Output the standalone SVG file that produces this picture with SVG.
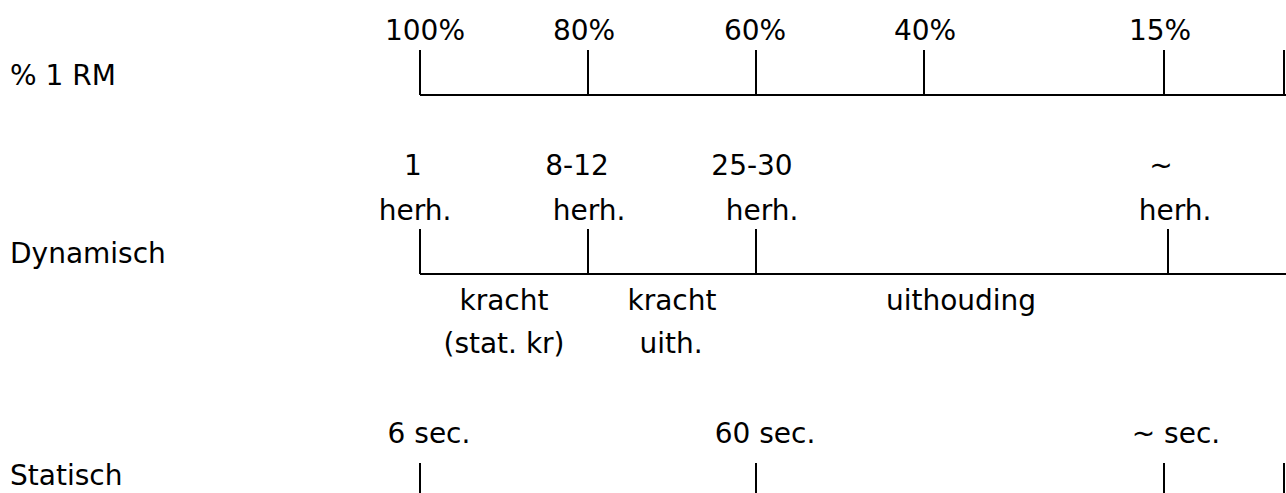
<svg xmlns="http://www.w3.org/2000/svg" width="1286" height="493" viewBox="0 0 1286 493">
<style>
text{font-family:"Comic Sans MS","DejaVu Sans",sans-serif;font-size:28px;fill:#000}
.m{text-anchor:middle}
line{stroke:#000;stroke-width:2;fill:none}
</style>
<rect width="1286" height="493" fill="#fff"/>
<g id="row-labels">
<text x="10" y="85">% 1 RM</text>
<text x="10" y="263">Dynamisch</text>
<text x="10" y="485">Statisch</text>
</g>
<g id="rm-scale">
<text class="m" x="425" y="40">100%</text>
<text class="m" x="584" y="40">80%</text>
<text class="m" x="755" y="40">60%</text>
<text class="m" x="925" y="40">40%</text>
<text class="m" x="1160" y="40">15%</text>
</g>
<g id="dyn-scale">
<text class="m" x="413" y="175">1</text>
<text class="m" x="577" y="175">8-12</text>
<text class="m" x="752" y="175">25-30</text>
<text class="m" x="1161" y="175">~</text>
<text class="m" x="415" y="220">herh.</text>
<text class="m" x="589" y="220">herh.</text>
<text class="m" x="762" y="220">herh.</text>
<text class="m" x="1175" y="220">herh.</text>
<text class="m" x="504" y="310">kracht</text>
<text class="m" x="504" y="353">(stat. kr)</text>
<text class="m" x="672" y="310">kracht</text>
<text class="m" x="671" y="353">uith.</text>
<text class="m" x="961" y="310">uithouding</text>
</g>
<g id="stat-scale">
<text class="m" x="429" y="443">6 sec.</text>
<text class="m" x="765" y="443">60 sec.</text>
<text class="m" x="1176" y="443">~ sec.</text>
</g>
<g id="connectors">
<line x1="420" y1="95" x2="1286" y2="95"/>
<line x1="420" y1="50" x2="420" y2="95"/>
<line x1="588" y1="50" x2="588" y2="95"/>
<line x1="756" y1="50" x2="756" y2="95"/>
<line x1="924" y1="50" x2="924" y2="95"/>
<line x1="1164" y1="50" x2="1164" y2="95"/>
<line x1="1284" y1="50" x2="1284" y2="95"/>
<line x1="420" y1="274" x2="1286" y2="274"/>
<line x1="420" y1="229" x2="420" y2="274"/>
<line x1="588" y1="229" x2="588" y2="274"/>
<line x1="756" y1="229" x2="756" y2="274"/>
<line x1="1168" y1="229" x2="1168" y2="274"/>
<line x1="420" y1="463" x2="420" y2="493"/>
<line x1="756" y1="463" x2="756" y2="493"/>
<line x1="1164" y1="463" x2="1164" y2="493"/>
<line x1="1284" y1="463" x2="1284" y2="493"/>
</g>
</svg>
